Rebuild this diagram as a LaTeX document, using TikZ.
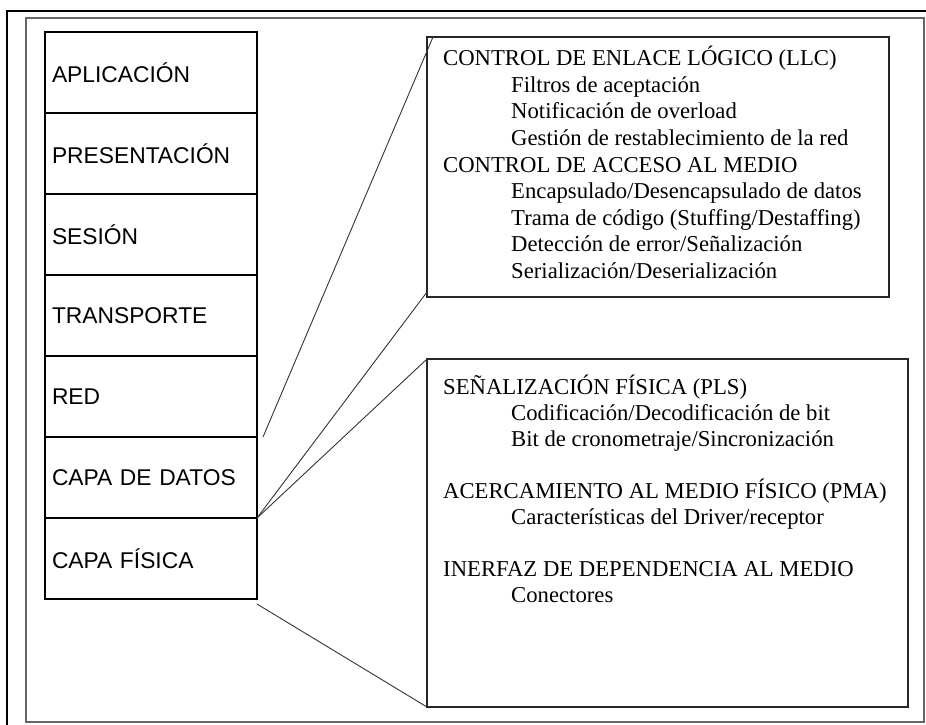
\documentclass[tikz,border=0pt]{standalone}
\usepackage{fontspec}
\setmainfont{Liberation Serif}
\setsansfont{Liberation Sans}
\usetikzlibrary{positioning}
\tikzset
{
    layer/.style = {draw=black, line width=1.4pt, rectangle, outer sep=0pt, minimum width=212pt, minimum height=81pt, text width=198pt, inner xsep=7pt, inner ysep=0pt, align=left, font=\sffamily\fontsize{22.8}{26}\selectfont},
    thickedge/.style = {line width=2.8pt, line cap=rect},
    detailbox/.style = {draw=black!85, line width=1.4pt, rectangle, outer sep=0pt, inner sep=0pt, anchor=north west},
    detailtext/.style = {inner sep=0pt, align=left, anchor=north west, font=\fontsize{22.7}{26.6}\selectfont},
    zoomline/.style = {draw=black!80, line width=0.9pt}
}
\newcommand{\subline}{\hspace*{68pt}}

\begin{document}
\begin{tikzpicture}[x=1pt, y=-1pt]
    \useasboundingbox (0,0) rectangle (926,724);
    % frames
    \draw[line width=2.6pt] (7,730) -- (7,11) -- (932,11);
    \draw[black!60, line width=1.2pt] (26,18) rectangle (924,722);
    % the seven layers
    \node [layer, anchor=north west] (apl) at (45,32) {APLICACIÓN};
    \node [layer, below=0pt of apl] (pre) {PRESENTACIÓN};
    \node [layer, below=0pt of pre] (ses) {SESIÓN};
    \node [layer, below=0pt of ses] (tra) {TRANSPORTE};
    \node [layer, below=0pt of tra] (red) {RED};
    \node [layer, below=0pt of red] (dat) {CAPA DE DATOS};
    \node [layer, below=0pt of dat] (fis) {CAPA FÍSICA};
    \draw [thickedge] (fis.south west) -- (apl.north west) -- (apl.north east);
    \draw [thickedge] (apl.south west) -- (apl.south east);
    \draw [thickedge] (ses.south west) -- (ses.south east);
    \draw [thickedge] (dat.south west) -- (dat.south east);
    % detail boxes
    \node [detailbox, minimum width=462pt, minimum height=260pt] (llcbox) at (427,37) {};
    \node [detailbox, minimum width=481pt, minimum height=348pt] (plsbox) at (427,359) {};
    \node [detailtext] (llctext) at ([xshift=16pt, yshift=-9pt]llcbox.north west)
    {
        CONTROL DE ENLACE LÓGICO (LLC)\\
        \subline Filtros de aceptación\\
        \subline Notificación de overload\\
        \subline Gestión de restablecimiento de la red\\
        CONTROL DE ACCESO AL MEDIO\\
        \subline Encapsulado/Desencapsulado de datos\\
        \subline Trama de código (Stuffing/Destaffing)\\
        \subline Detección de error/Señalización\\
        \subline Serialización/Deserialización
    };
    \node [detailtext, font=\fontsize{22.7}{26}\selectfont] (plstext) at ([xshift=16pt, yshift=-16pt]plsbox.north west)
    {
        SEÑALIZACIÓN FÍSICA (PLS)\\
        \subline Codificación/Decodificación de bit\\
        \subline Bit de cronometraje/Sincronización\\[26pt]
        ACERCAMIENTO AL MEDIO FÍSICO (PMA)\\
        \subline Características del Driver/receptor\\[26pt]
        INERFAZ DE DEPENDENCIA AL MEDIO\\
        \subline Conectores
    };
    % zoom lines
    \coordinate (redtip) at ([xshift=6pt]red.south east);
    \coordinate (fistip) at ([yshift=-5pt]fis.south east);
    \draw [zoomline] (redtip) -- ([xshift=6pt]llcbox.north west);
    \draw [zoomline] (dat.south east) -- ([yshift=5pt]llcbox.south west);
    \draw [zoomline] (dat.south east) -- (plsbox.north west);
    \draw [zoomline] (fistip) -- (plsbox.south west);
\end{tikzpicture}
\end{document}
